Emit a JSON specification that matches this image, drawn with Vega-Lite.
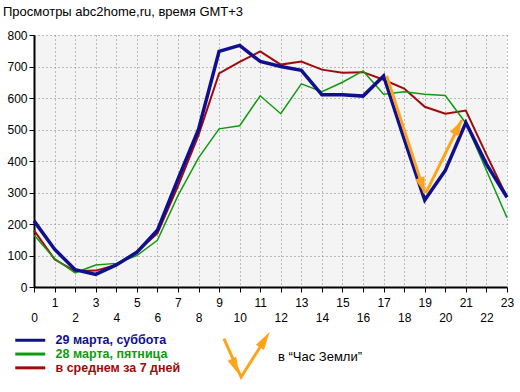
{
  "$schema": "https://vega.github.io/schema/vega-lite/v6.json",
  "autosize": {"type": "none"},
  "padding": {"left": 34, "top": 35, "right": 13, "bottom": 105},
  "width": 473,
  "height": 252,
  "background": "white",
  "title": {"text": "Просмотры abc2home,ru, время GMT+3", "anchor": "start", "frame": "group", "dx": -31, "offset": 12, "dy": 12, "baseline": "alphabetic", "fontSize": 13, "fontWeight": "normal", "font": "Liberation Sans", "color": "black"},
  "config": {
    "font": "Liberation Sans",
    "view": {"fill": "#f4f4f4", "stroke": null},
    "axis": {"domainColor": "black", "domainWidth": 2, "tickColor": "black", "tickSize": 5, "tickWidth": 1, "labelFont": "Liberation Sans", "labelFontSize": 12, "labelColor": "black", "grid": true, "gridColor": "#808080", "gridDash": [1, 3], "gridWidth": 1, "gridOpacity": 1, "title": null, "labelFlush": false, "labelOverlap": false, "labelBound": false}
  },
  "datasets": {
    "views": [
      {"hour": 0, "series": "29 марта, суббота", "value": 210}, {"hour": 0, "series": "28 марта, пятница", "value": 165}, {"hour": 0, "series": "в среднем за 7 дней", "value": 180},
      {"hour": 1, "series": "29 марта, суббота", "value": 120}, {"hour": 1, "series": "28 марта, пятница", "value": 90}, {"hour": 1, "series": "в среднем за 7 дней", "value": 88},
      {"hour": 2, "series": "29 марта, суббота", "value": 55}, {"hour": 2, "series": "28 марта, пятница", "value": 45}, {"hour": 2, "series": "в среднем за 7 дней", "value": 50},
      {"hour": 3, "series": "29 марта, суббота", "value": 40}, {"hour": 3, "series": "28 марта, пятница", "value": 70}, {"hour": 3, "series": "в среднем за 7 дней", "value": 52},
      {"hour": 4, "series": "29 марта, суббота", "value": 70}, {"hour": 4, "series": "28 марта, пятница", "value": 75}, {"hour": 4, "series": "в среднем за 7 дней", "value": 70},
      {"hour": 5, "series": "29 марта, суббота", "value": 110}, {"hour": 5, "series": "28 марта, пятница", "value": 100}, {"hour": 5, "series": "в среднем за 7 дней", "value": 112},
      {"hour": 6, "series": "29 марта, суббота", "value": 180}, {"hour": 6, "series": "28 марта, пятница", "value": 148}, {"hour": 6, "series": "в среднем за 7 дней", "value": 170},
      {"hour": 7, "series": "29 марта, суббота", "value": 342}, {"hour": 7, "series": "28 марта, пятница", "value": 290}, {"hour": 7, "series": "в среднем за 7 дней", "value": 320},
      {"hour": 8, "series": "29 марта, суббота", "value": 500}, {"hour": 8, "series": "28 марта, пятница", "value": 410}, {"hour": 8, "series": "в среднем за 7 дней", "value": 482},
      {"hour": 9, "series": "29 марта, суббота", "value": 748}, {"hour": 9, "series": "28 марта, пятница", "value": 502}, {"hour": 9, "series": "в среднем за 7 дней", "value": 678},
      {"hour": 10, "series": "29 марта, суббота", "value": 767}, {"hour": 10, "series": "28 марта, пятница", "value": 512}, {"hour": 10, "series": "в среднем за 7 дней", "value": 715},
      {"hour": 11, "series": "29 марта, суббота", "value": 716}, {"hour": 11, "series": "28 марта, пятница", "value": 607}, {"hour": 11, "series": "в среднем за 7 дней", "value": 748},
      {"hour": 12, "series": "29 марта, суббота", "value": 700}, {"hour": 12, "series": "28 марта, пятница", "value": 550}, {"hour": 12, "series": "в среднем за 7 дней", "value": 706},
      {"hour": 13, "series": "29 марта, суббота", "value": 688}, {"hour": 13, "series": "28 марта, пятница", "value": 645}, {"hour": 13, "series": "в среднем за 7 дней", "value": 716},
      {"hour": 14, "series": "29 марта, суббота", "value": 610}, {"hour": 14, "series": "28 марта, пятница", "value": 620}, {"hour": 14, "series": "в среднем за 7 дней", "value": 690},
      {"hour": 15, "series": "29 марта, суббота", "value": 610}, {"hour": 15, "series": "28 марта, пятница", "value": 650}, {"hour": 15, "series": "в среднем за 7 дней", "value": 680},
      {"hour": 16, "series": "29 марта, суббота", "value": 606}, {"hour": 16, "series": "28 марта, пятница", "value": 686}, {"hour": 16, "series": "в среднем за 7 дней", "value": 682},
      {"hour": 17, "series": "29 марта, суббота", "value": 670}, {"hour": 17, "series": "28 марта, пятница", "value": 612}, {"hour": 17, "series": "в среднем за 7 дней", "value": 658},
      {"hour": 18, "series": "29 марта, суббота", "value": 470}, {"hour": 18, "series": "28 марта, пятница", "value": 620}, {"hour": 18, "series": "в среднем за 7 дней", "value": 630},
      {"hour": 19, "series": "29 марта, суббота", "value": 276}, {"hour": 19, "series": "28 марта, пятница", "value": 612}, {"hour": 19, "series": "в среднем за 7 дней", "value": 572},
      {"hour": 20, "series": "29 марта, суббота", "value": 370}, {"hour": 20, "series": "28 марта, пятница", "value": 608}, {"hour": 20, "series": "в среднем за 7 дней", "value": 550},
      {"hour": 21, "series": "29 марта, суббота", "value": 522}, {"hour": 21, "series": "28 марта, пятница", "value": 520}, {"hour": 21, "series": "в среднем за 7 дней", "value": 560},
      {"hour": 22, "series": "29 марта, суббота", "value": 390}, {"hour": 22, "series": "28 марта, пятница", "value": 370}, {"hour": 22, "series": "в среднем за 7 дней", "value": 420},
      {"hour": 23, "series": "29 марта, суббота", "value": 285}, {"hour": 23, "series": "28 марта, пятница", "value": 220}, {"hour": 23, "series": "в среднем за 7 дней", "value": 285}
    ],
    "arrows": [
      {"arrow": "a1", "hour": 17.15, "value": 670, "hour2": 19.0, "value2": 298, "note": "в “Час Земли”"},
      {"arrow": "a2", "hour": 19.05, "value": 298, "hour2": 20.8, "value2": 530, "note": "в “Час Земли”"}
    ]
  },
  "encoding": {
    "x": {"field": "hour", "type": "quantitative", "scale": {"domain": [0, 23], "nice": false, "zero": false},
      "axis": {"values": [0,1,2,3,4,5,6,7,8,9,10,11,12,13,14,15,16,17,18,19,20,21,22,23], "format": "d", "labelPadding": 5, "labelBaseline": "top",
        "labelExpr": "datum.value % 2 == 0 ? ['', datum.label] : datum.label", "labelLineHeight": 15}},
    "y": {"field": "value", "type": "quantitative", "scale": {"domain": [0, 800], "nice": false},
      "axis": {"values": [0,100,200,300,400,500,600,700,800], "labelPadding": 2}}
  },
  "layer": [
    {
      "data": {"name": "views"},
      "encoding": {
        "color": {"field": "series", "type": "nominal",
          "scale": {"domain": ["29 марта, суббота", "28 марта, пятница", "в среднем за 7 дней"], "range": ["#10108f", "#109a10", "#a00a0a"]},
          "legend": {"title": null, "orient": "none", "legendX": -10, "legendY": 299, "padding": 0,
            "symbolType": "M-6,0L6,0", "symbolSize": 25, "symbolStrokeWidth": 3,
            "labelFontSize": 12.5, "labelFontWeight": "bold", "labelFont": "Liberation Sans", "labelOffset": 19, "rowPadding": 0.8,
            "encode": {"labels": {"update": {"fill": {"signal": "datum.label == '29 марта, суббота' ? '#10108f' : datum.label == '28 марта, пятница' ? '#109a10' : '#a00a0a'"}}}}}}
      },
      "layer": [
        {"transform": [{"filter": "datum.series == 'в среднем за 7 дней'"}], "mark": {"type": "line", "strokeWidth": 2}},
        {"transform": [{"filter": "datum.series == '28 марта, пятница'"}], "mark": {"type": "line", "strokeWidth": 1.5}},
        {"transform": [{"filter": "datum.series == '29 марта, суббота'"}], "mark": {"type": "line", "strokeWidth": 3.5}}
      ]
    },
    {
      "data": {"name": "arrows"},
      "layer": [
        {"mark": {"type": "rule", "strokeWidth": 3},
          "encoding": {
            "x2": {"field": "hour2"}, "y2": {"field": "value2"},
            "color": {"field": "note", "type": "nominal", "scale": {"range": ["#ffa31a"]},
              "legend": {"title": null, "orient": "none", "legendX": 188, "legendY": 299, "padding": 0,
                "symbolType": "M-0.98,-0.85L-0.18,0.93L1,-0.93M-0.37,0.6L-0.459,0.091L-0.695,0.199ZM1,-0.93L0.842,-0.438L0.622,-0.578Z",
                "symbolSize": 1849, "symbolStrokeWidth": 3, "labelFontSize": 13, "labelColor": "black", "labelFont": "Liberation Sans", "labelOffset": 10,
                "encode": {"symbols": {"update": {"fill": {"value": "transparent"}, "stroke": {"value": "#ffa31a"}, "strokeWidth": {"value": 3}}}}}}
          }},
        {"transform": [{"filter": "datum.arrow == 'a1'"}],
          "mark": {"type": "point", "shape": "M0,0L0.5,1.6L-0.5,1.6Z", "filled": true, "color": "#ffa31a", "opacity": 1, "size": 400, "angle": 162},
          "encoding": {"x": {"field": "hour2", "type": "quantitative"}, "y": {"field": "value2", "type": "quantitative"}}},
        {"transform": [{"filter": "datum.arrow == 'a2'"}],
          "mark": {"type": "point", "shape": "M0,0L0.5,1.6L-0.5,1.6Z", "filled": true, "color": "#ffa31a", "opacity": 1, "size": 400, "angle": 27},
          "encoding": {"x": {"field": "hour2", "type": "quantitative"}, "y": {"field": "value2", "type": "quantitative"}}}
      ]
    }
  ],
  "resolve": {"scale": {"color": "independent"}}
}
